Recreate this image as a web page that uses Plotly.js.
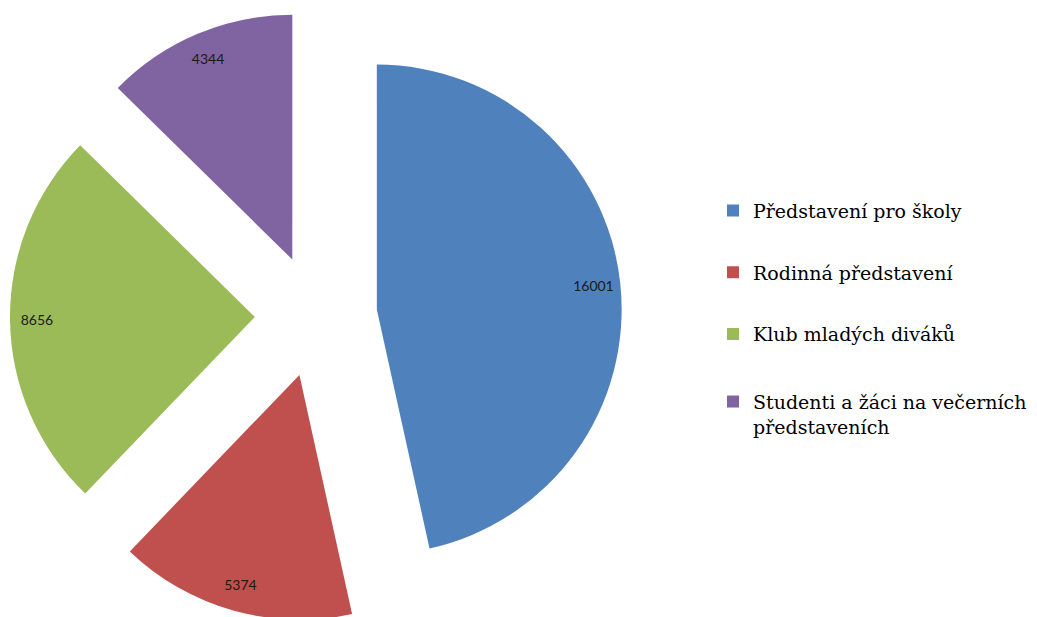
<!DOCTYPE html>
<html>
<head>
<meta charset="utf-8">
<script src="https://cdn.plot.ly/plotly-3.0.1.min.js"></script>
<style>html,body{margin:0;padding:0;overflow:hidden;background:#fff;}</style>
</head>
<body>
<div id="chart"></div>
<script>
var categories = ["Představení pro školy", "Rodinná představení", "Klub mladých diváků", "Studenti a žáci na večerních představeních"];
var legendLabels = ["Představení pro školy", "Rodinná představení", "Klub mladých diváků", " <br>Studenti a žáci na večerních<br>představeních"];
var values = [16001, 5374, 8656, 4344];
var colors = ["#4F81BD", "#C0504D", "#9BBB59", "#8064A2"];

var pieDomain = {x: [0, 632/1037], y: [0, 1]};
var pulls = [0.25, 0.25, 0.25, 0.25];

var traces = [{
  type: "pie",
  labels: categories,
  values: values,
  sort: false,
  direction: "clockwise",
  rotation: 0,
  pull: pulls,
  marker: {colors: colors, line: {width: 0}},
  textinfo: "none",
  domain: pieDomain,
  showlegend: false,
  hoverinfo: "label+value"
}, {
  // transparent ring overlay: places value labels near the outer edge
  type: "pie",
  labels: categories,
  values: values,
  sort: false,
  direction: "clockwise",
  rotation: 0,
  pull: pulls,
  hole: 0.78,
  marker: {colors: ["rgba(0,0,0,0)","rgba(0,0,0,0)","rgba(0,0,0,0)","rgba(0,0,0,0)"], line: {width: 0}},
  texttemplate: "%{value:d}",
  textposition: "inside",
  insidetextorientation: "horizontal",
  textfont: {family: "Lato, 'Open Sans', sans-serif", size: 14, color: "#1a1a1a"},
  domain: pieDomain,
  showlegend: false,
  hoverinfo: "skip"
}];

categories.forEach(function(c, i) {
  traces.push({
    type: "scatter",
    mode: "markers",
    x: [null], y: [null],
    name: legendLabels[i],
    legendgroup: "g" + i,
    legend: i < 3 ? "legend" : "legend2",
    marker: {symbol: "square", size: 12, color: colors[i]},
    showlegend: true,
    hoverinfo: "skip"
  });
});

var legendFont = {family: "'DejaVu Serif', 'Liberation Serif', serif", size: 19, color: "#000"};

var layout = {
  width: 1037,
  height: 622,
  margin: {t: 10, b: 0, l: 0, r: 0},
  paper_bgcolor: "#fff",
  plot_bgcolor: "#fff",
  xaxis: {visible: false},
  yaxis: {visible: false},
  showlegend: true,
  legend: {
    x: 713/1037, xanchor: "left",
    y: 0.7032, yanchor: "top",
    font: legendFont,
    tracegroupgap: 34,
    itemwidth: 30,
    bgcolor: "rgba(0,0,0,0)"
  },
  legend2: {
    x: 713/1037, xanchor: "left",
    y: 0.4314, yanchor: "top",
    font: legendFont,
    itemwidth: 30,
    bgcolor: "rgba(0,0,0,0)"
  }
};

Plotly.newPlot("chart", traces, layout, {displayModeBar: false, staticPlot: true});
</script>
</body>
</html>
